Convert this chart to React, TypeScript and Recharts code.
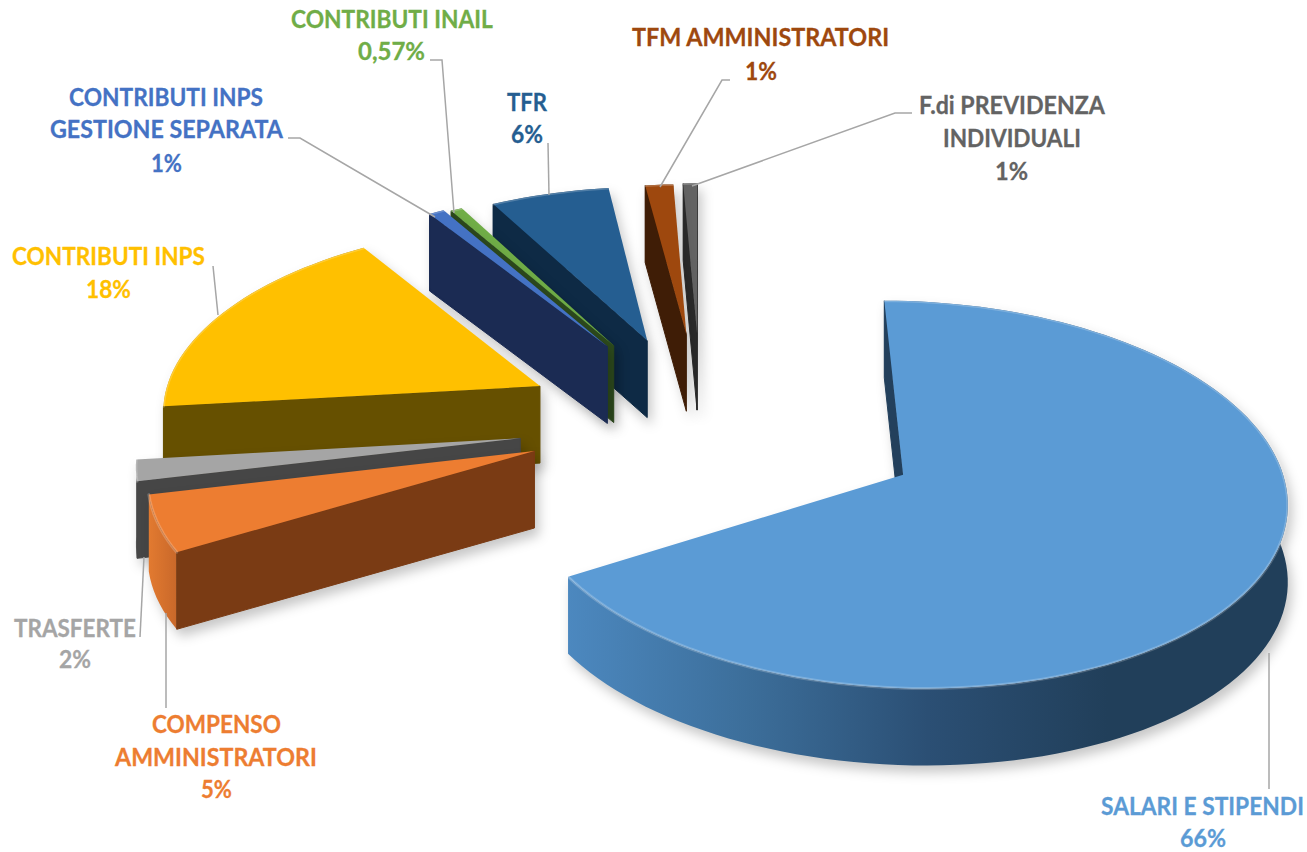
import { PieChart, Pie, Cell } from "recharts";

// drawing order: back slices first, salari last
const names = [
  "F.di PREVIDENZA|INDIVIDUALI",
  "TFM AMMINISTRATORI",
  "TFR",
  "CONTRIBUTI INAIL",
  "CONTRIBUTI INPS|GESTIONE SEPARATA",
  "CONTRIBUTI INPS",
  "TRASFERTE",
  "COMPENSO|AMMINISTRATORI",
  "SALARI E STIPENDI",
];
const values = [0.7, 1.4, 5.8, 0.57, 0.75, 17.5, 1.8, 4.8, 66.45];
const percents = ["1%", "1%", "6%", "0,57%", "1%", "18%", "2%", "5%", "66%"];

const colors = ["#636363", "#9e480e", "#255e91", "#70ad47", "#4472c4", "#ffc000", "#a5a5a5", "#ed7d31", "#5b9bd5"];
const sideColors = ["#2b2b2b", "#3f1d06", "#0e2a45", "#2d4a1d", "#1b2b53", "#665000", "#464646", "#7a3b14", "#23405c"];
const rimStops = [
  ["#3a3a3a", "#3a3a3a"],
  ["#5a2a08", "#5a2a08"],
  ["#16395a", "#16395a"],
  ["#3d6a28", "#3d6a28"],
  ["#284576", "#284576"],
  ["#b08600", "#8c6c00"],
  ["#6b6b6b", "#555555"],
  ["#e27a30", "#c9682a"],
  ["#4c88bf", "#3c6e9a", "#2b4f74", "#213f5a", "#213f5a"],
];
const explode = [190, 190, 190, 190, 190, 190, 190, 190, 232];
const nudgeU = [-3, -2, -2, -3, -3, 0, 0, 5, -2];
const nudgeV = [4, 6, 12, 8, 6, 14, 12, 0, 2];
const radiusScale = [1, 1, 1.02, 1.02, 1.03, 1.03, 1.02, 1.02, 1];

// label boxes: x range of each text line, baseline of each line
const labelLines = [
  [[919, 1105, 114], [943, 1081, 147], [995, 1028, 180]],
  [[632, 890, 46], [745, 777, 80]],
  [[507, 547, 111], [511, 543, 143]],
  [[291, 493, 28], [358, 425, 60]],
  [[69, 263, 106], [50, 283, 138], [151, 182, 172]],
  [[12, 205, 265], [86, 131, 298]],
  [[14, 136, 637], [59, 91, 668]],
  [[152, 281, 733], [115, 317, 766], [201, 232, 798]],
  [[1101, 1304, 815], [1180, 1226, 847]],
];
const leaders = [
  "912,113 895,113 692,186",
  "730,80 722,80 660,187",
  "548,143 549,195",
  "430,60 442,60 454,213",
  "288,138 300,138 435,217",
  "213,266 218,315",
  "140,637 144,557",
  "166,708 166,613",
  "1269,789 1269,653",
];

const rows = names.map((name, slot) => ({ name, value: values[slot], slot }));

const X0 = 700;
const Y0 = 475;
const TILT = 0.505;
const PERSP = 0.000269;
const DEPTH = 77;
const RAD = Math.PI / 180;
const LABEL_FONT = "700 25px Lato";

type Pt = { x: number; y: number; s: number };

const measure = document.createElement("canvas").getContext("2d")!;

function project(x: number, y: number): Pt {
  const v = y - Y0;
  const s = 1 / (1 - PERSP * v);
  return { x: X0 + (x - X0) * s, y: Y0 + TILT * v * s, s };
}

function Slice3D(props: any) {
  const { cx, cy, startAngle, endAngle, outerRadius, payload } = props;
  const slot = payload?.slot ?? props.slot;
  const mid = ((startAngle + endAngle) / 2) * RAD;
  const ox = cx + explode[slot] * Math.cos(mid) + nudgeU[slot];
  const oy = cy - explode[slot] * Math.sin(mid) + nudgeV[slot];
  const radius = outerRadius * radiusScale[slot];

  const tip = project(ox, oy);
  const arc: Pt[] = [];
  const steps = Math.max(2, Math.ceil(Math.abs(endAngle - startAngle) / 2));
  for (let i = 0; i <= steps; i++) {
    const a = (startAngle + ((endAngle - startAngle) * i) / steps) * RAD;
    arc.push(project(ox + radius * Math.cos(a), oy - radius * Math.sin(a)));
  }
  const down = (p: Pt) => `${p.x},${p.y + DEPTH}`;
  const up = (p: Pt) => `${p.x},${p.y}`;
  const centre = arc[Math.floor(arc.length / 2)];

  // a cut face only shows when its outward normal points down the screen
  const faces = [arc[0], arc[arc.length - 1]]
    .filter((p) => {
      const dx = p.x - tip.x;
      const dy = p.y - tip.y;
      const side = dy * (centre.x - tip.x) - dx * (centre.y - tip.y);
      const normalY = side > 0 ? dx : -dx;
      return normalY > 0;
    })
    .map((p) => `M${up(tip)} L${up(p)} L${down(p)} L${down(tip)} Z`);

  const xs = arc.map((p) => p.x);
  const gradId = `rim-${slot}`;
  const stops = rimStops[slot];
  const rimWall = "M" + arc.map(up).join(" L") + " L" + [...arc].reverse().map(down).join(" L") + " Z";
  const rimLine = "M" + arc.map(up).join(" L");
  const top = `M${up(tip)} L` + arc.map(up).join(" L") + " Z";

  return (
    <g style={{ filter: "drop-shadow(4px 7px 6px rgba(0,0,0,0.22))" }}>
      <defs>
        <linearGradient
          id={gradId}
          gradientUnits="userSpaceOnUse"
          x1={Math.min(...xs)}
          x2={Math.max(...xs)}
          y1={0}
          y2={0}
        >
          {stops.map((c, i) => (
            <stop key={i} offset={i / (stops.length - 1)} stopColor={c} />
          ))}
        </linearGradient>
      </defs>
      <path d={rimWall} fill={`url(#${gradId})`} />
      {faces.map((d, i) => (
        <path key={i} d={d} fill={sideColors[slot]} stroke={sideColors[slot]} strokeLinejoin="round" />
      ))}
      <path d={top} fill={colors[slot]} />
      <path d={rimLine} fill="none" stroke="#ffffff" strokeOpacity={0.2} strokeWidth={3} strokeLinecap="round" />
    </g>
  );
}

function SliceLabel(props: any) {
  const { index } = props;
  const text = [...names[index].split("|"), percents[index]];
  measure.font = LABEL_FONT;
  return (
    <g>
      <polyline points={leaders[index]} fill="none" stroke="#a6a6a6" strokeWidth={1.5} />
      {text.map((line, i) => {
        const [x1, x2, base] = labelLines[index][i];
        // Calibri is narrower than Lato, so squeeze each line to its width
        const squeeze = (x2 - x1) / measure.measureText(line).width;
        return (
          <text
            key={i}
            transform={`translate(${x1},${base}) scale(${squeeze},1)`}
            fill={colors[index]}
            stroke={colors[index]}
            strokeWidth={0.3}
            fontFamily="Lato"
            fontWeight={700}
            fontSize={25}
          >
            {line}
          </text>
        );
      })}
    </g>
  );
}

export default function App() {
  return (
    <div style={{ position: "absolute", left: 0, top: 0, width: 1307, height: 852, background: "#fff" }}>
      <PieChart width={1307} height={852} margin={{ top: 0, right: 0, bottom: 0, left: 0 }}>
        <Pie
          data={rows}
          dataKey="value"
          nameKey="name"
          cx={704}
          cy={357}
          innerRadius={0}
          outerRadius={380}
          startAngle={90}
          endAngle={450}
          stroke="none"
          shape={Slice3D}
          label={SliceLabel}
          labelLine={false}
          isAnimationActive={false}
        >
          {rows.map((row) => (
            <Cell key={row.name} fill={colors[row.slot]} />
          ))}
        </Pie>
      </PieChart>
    </div>
  );
}
